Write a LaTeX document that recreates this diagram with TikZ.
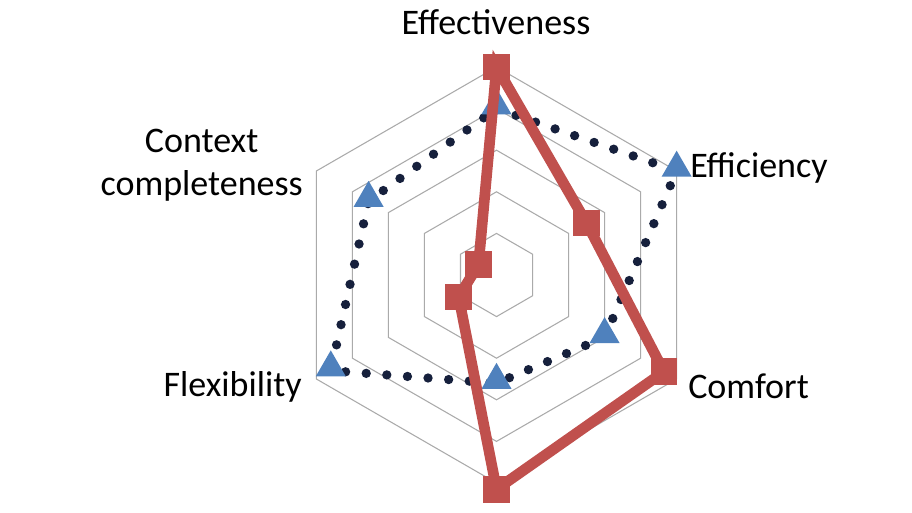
\documentclass[tikz,border=0pt]{standalone}
\usepackage{fontspec}
\setmainfont{Carlito}
\usetikzlibrary{shapes.geometric,calc}
\definecolor{ringgray}{RGB}{170,170,170}
\definecolor{redser}{RGB}{192,80,77}
\definecolor{blueser}{RGB}{79,129,189}
\definecolor{navy}{RGB}{22,32,60}
\tikzset{
  ring/.style={draw=ringgray, line width=0.8pt},
  redline/.style={draw=redser, line width=8pt, line join=miter},
  dotline/.style={draw=navy, line width=7pt, line cap=round, dash pattern=on 0pt off 15.5pt},
  sq/.style={fill=redser, minimum size=20pt, inner sep=0pt, rectangle},
  tri/.style={fill=blueser, regular polygon, regular polygon sides=3, minimum size=26pt, inner sep=0pt},
  lab/.style={font=\fontsize{27}{32}\selectfont, inner sep=0pt}
}
\begin{document}
\begin{tikzpicture}[x=0.75pt,y=0.75pt]
\useasboundingbox (0,0) rectangle (912,-513);
\begin{scope}[shift={(496.5,-275)}]
\foreach \k in {1,...,5}{
  \draw[ring] (90:\k*41.6) -- (30:\k*41.6) -- (-30:\k*41.6) -- (-90:\k*41.6) -- (210:\k*41.6) -- (150:\k*41.6) -- cycle;
}
% blue series
\coordinate (b1) at (90:0.8*208);
\coordinate (b2) at (30:1.0*208);
\coordinate (b3) at (-30:0.6*208);
\coordinate (b4) at (-90:0.52*208);
\coordinate (b5) at (210:0.92*208);
\coordinate (b6) at (150:0.71*208);
\draw[dotline] (b1) -- (b2) -- (b3) -- (b4) -- (b5) -- (b6) -- cycle;
\foreach \i in {1,...,6}{ \node[tri] (t\i) at ($(b\i)+(0,3)$) {}; }
% red series
\coordinate (r1) at (90:1.0*208);
\coordinate (r2) at (30:0.5*208);
\coordinate (r3) at (-30:0.93*208);
\coordinate (r4) at (-90:1.03*208);
\coordinate (r5) at (210:0.21*208);
\coordinate (r6) at (150:0.1*208);
\draw[redline] (r1) -- (r2) -- (r3) -- (r4) -- (r5) -- (r6) -- cycle;
\foreach \i in {1,...,6}{ \node[sq] (s\i) at (r\i) {}; }
\end{scope}
\node[lab, anchor=center] (le) at (496,-22) {Effectiveness};
\node[lab, anchor=west] (lf) at (690,-168) {Efficiency};
\node[lab, anchor=west] (lc) at (688,-386) {Comfort};
\node[lab, anchor=east] (lx) at (302,-387) {Flexibility};
\node[lab, anchor=east, align=center] (lk) at (303,-165) {Context\\completeness};
\end{tikzpicture}
\end{document}
